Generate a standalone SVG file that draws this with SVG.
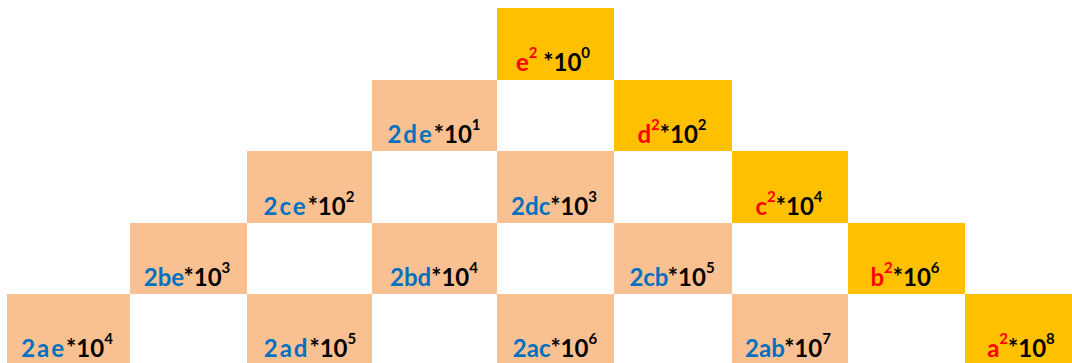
<svg xmlns="http://www.w3.org/2000/svg" width="1072" height="363" viewBox="0 0 1072 363">
<style>
.p{fill:#F9C192}
.g{fill:#FFC000}
text{font-family:Lato,"Liberation Sans",sans-serif;font-weight:bold;font-size:24px;text-anchor:middle;fill:#000}
.bl{fill:#0070C0}
.sp{letter-spacing:2px}
.r{fill:#FF0000}
.s{font-size:15px}
</style>
<rect width="1072" height="363" fill="#fff"/>
<g id="n-e2"><rect class="g" x="497" y="8" width="117" height="72"/><text x="553" y="71"><tspan class="r">e</tspan><tspan class="r s" dy="-13">2</tspan><tspan dy="13"> *10</tspan><tspan class="s" dy="-13">0</tspan></text></g>
<g id="n-2de"><rect class="p" x="372" y="80" width="125" height="71"/><text x="434" y="143"><tspan class="bl sp">2de</tspan><tspan>*10</tspan><tspan class="s" dy="-13">1</tspan></text></g>
<g id="n-d2"><rect class="g" x="614" y="80" width="118" height="71"/><text x="672" y="143"><tspan class="r">d</tspan><tspan class="r s" dy="-13">2</tspan><tspan dy="13">*10</tspan><tspan class="s" dy="-13">2</tspan></text></g>
<g id="n-2ce"><rect class="p" x="247" y="151" width="125" height="72"/><text x="309" y="215"><tspan class="bl sp">2ce</tspan><tspan>*10</tspan><tspan class="s" dy="-13">2</tspan></text></g>
<g id="n-2dc"><rect class="p" x="497" y="151" width="117" height="72"/><text x="554" y="215"><tspan class="bl">2dc</tspan><tspan>*10</tspan><tspan class="s" dy="-13">3</tspan></text></g>
<g id="n-c2"><rect class="g" x="732" y="151" width="116" height="72"/><text x="789" y="215"><tspan class="r">c</tspan><tspan class="r s" dy="-13">2</tspan><tspan dy="13">*10</tspan><tspan class="s" dy="-13">4</tspan></text></g>
<g id="n-2be"><rect class="p" x="130" y="223" width="117" height="71"/><text x="187" y="286"><tspan class="bl">2be</tspan><tspan>*10</tspan><tspan class="s" dy="-13">3</tspan></text></g>
<g id="n-2bd"><rect class="p" x="372" y="223" width="125" height="71"/><text x="434" y="286"><tspan class="bl">2bd</tspan><tspan>*10</tspan><tspan class="s" dy="-13">4</tspan></text></g>
<g id="n-2cb"><rect class="p" x="614" y="223" width="118" height="71"/><text x="672" y="286"><tspan class="bl">2cb</tspan><tspan>*10</tspan><tspan class="s" dy="-13">5</tspan></text></g>
<g id="n-b2"><rect class="g" x="848" y="223" width="117" height="71"/><text x="905" y="286"><tspan class="r">b</tspan><tspan class="r s" dy="-13">2</tspan><tspan dy="13">*10</tspan><tspan class="s" dy="-13">6</tspan></text></g>
<g id="n-2ae"><rect class="p" x="7" y="294" width="123" height="69"/><text x="67" y="357"><tspan class="bl sp">2ae</tspan><tspan>*10</tspan><tspan class="s" dy="-13">4</tspan></text></g>
<g id="n-2ad"><rect class="p" x="247" y="294" width="125" height="69"/><text x="310" y="357"><tspan class="bl sp">2ad</tspan><tspan>*10</tspan><tspan class="s" dy="-13">5</tspan></text></g>
<g id="n-2ac"><rect class="p" x="497" y="294" width="117" height="69"/><text x="555" y="357"><tspan class="bl">2ac</tspan><tspan>*10</tspan><tspan class="s" dy="-13">6</tspan></text></g>
<g id="n-2ab"><rect class="p" x="732" y="294" width="116" height="69"/><text x="788" y="357"><tspan class="bl">2ab</tspan><tspan>*10</tspan><tspan class="s" dy="-13">7</tspan></text></g>
<g id="n-a2"><rect class="g" x="965" y="294" width="107" height="69"/><text x="1021" y="357"><tspan class="r">a</tspan><tspan class="r s" dy="-13">2</tspan><tspan dy="13">*10</tspan><tspan class="s" dy="-13">8</tspan></text></g>
<g id="connectors"/>
</svg>
